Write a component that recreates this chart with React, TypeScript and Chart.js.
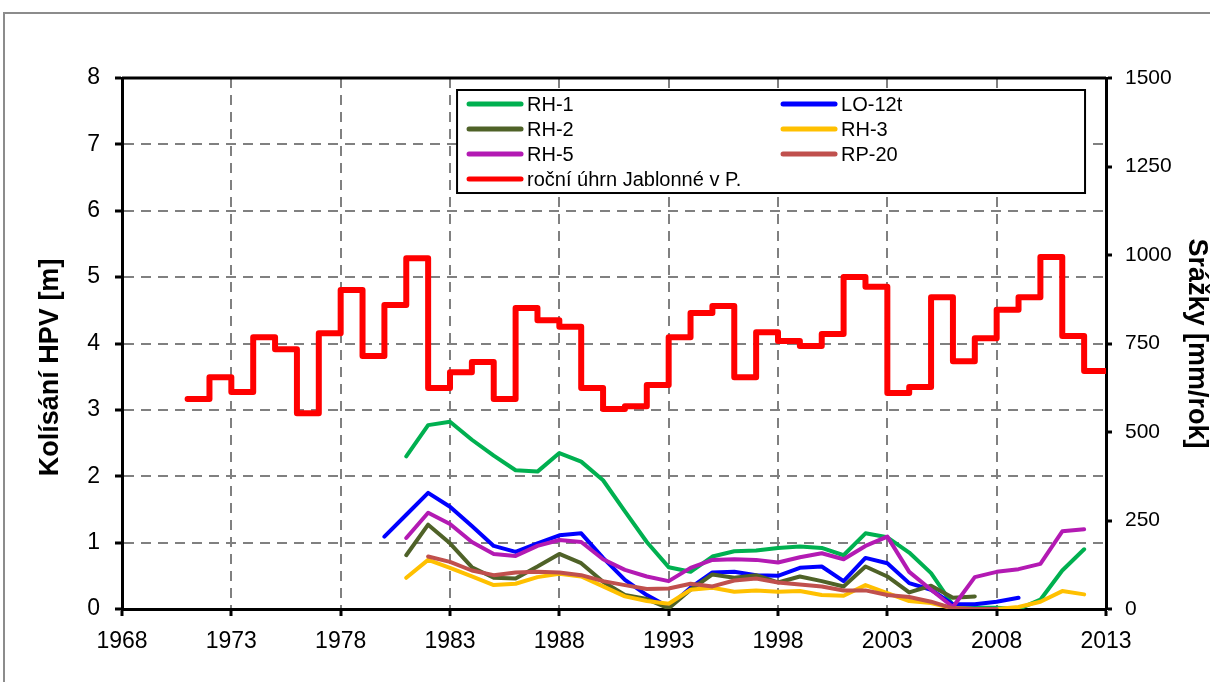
import React, { useEffect, useRef } from 'react';
import { Chart, registerables } from 'chart.js';

Chart.register(...registerables);

const FONT = '"Liberation Sans", Arial, sans-serif';

// x-axis tick labels (years)
const xTickValues = [1968, 1973, 1978, 1983, 1988, 1993, 1998, 2003, 2008, 2013];

// annual precipitation Jablonné v P. [mm/year] (last value repeats to close the final step)
const precipYears = [
  1971, 1972, 1973, 1974, 1975, 1976, 1977, 1978, 1979, 1980,
  1981, 1982, 1983, 1984, 1985, 1986, 1987, 1988, 1989, 1990,
  1991, 1992, 1993, 1994, 1995, 1996, 1997, 1998, 1999, 2000,
  2001, 2002, 2003, 2004, 2005, 2006, 2007, 2008, 2009, 2010,
  2011, 2012, 2013,
];
const precipValues = [
  593, 655, 613, 768, 734, 553, 779, 901, 715, 859,
  991, 624, 669, 698, 593, 850, 816, 797, 624, 565,
  573, 633, 768, 836, 856, 655, 782, 757, 743, 777,
  938, 910, 610, 627, 881, 700, 765, 845, 881, 994,
  771, 672, 672,
];

// groundwater level fluctuation [m]
const gwYears = [
  1980, 1981, 1982, 1983, 1984, 1985, 1986, 1987, 1988, 1989,
  1990, 1991, 1992, 1993, 1994, 1995, 1996, 1997, 1998, 1999,
  2000, 2001, 2002, 2003, 2004, 2005, 2006, 2007, 2008, 2009,
  2010, 2011, 2012,
];
const rh1 = [
  null, 2.30, 2.77, 2.82, 2.55, 2.31, 2.09, 2.07, 2.35, 2.22,
  1.94, 1.47, 1.01, 0.63, 0.56, 0.79, 0.87, 0.88, 0.92, 0.94,
  0.92, 0.81, 1.14, 1.08, 0.85, 0.54, 0.06, 0.02, 0.02, 0.0,
  0.14, 0.58, 0.90,
];
const lo12t = [
  1.09, 1.42, 1.75, 1.54, 1.25, 0.95, 0.86, 0.99, 1.11, 1.14,
  0.77, 0.44, 0.21, 0.03, 0.32, 0.55, 0.56, 0.51, 0.50, 0.62,
  0.64, 0.42, 0.77, 0.69, 0.39, 0.29, 0.07, 0.07, 0.11, 0.17,
  null, null, null,
];
const rh2 = [
  null, 0.81, 1.27, 0.99, 0.63, 0.47, 0.46, 0.64, 0.83, 0.69,
  0.41, 0.21, 0.15, 0.01, 0.29, 0.52, 0.47, 0.51, 0.40, 0.49,
  0.42, 0.34, 0.64, 0.49, 0.25, 0.35, 0.17, 0.19, null, null,
  null, null, null,
];
const rh3 = [
  null, 0.47, 0.74, 0.62, 0.49, 0.36, 0.38, 0.48, 0.53, 0.49,
  0.34, 0.19, 0.12, 0.08, 0.29, 0.32, 0.26, 0.28, 0.26, 0.27,
  0.21, 0.20, 0.36, 0.24, 0.12, 0.09, 0.01, 0.0, 0.0, 0.03,
  0.11, 0.27, 0.22,
];
const rh5 = [
  null, 1.07, 1.45, 1.28, 1.01, 0.83, 0.80, 0.95, 1.04, 1.01,
  0.75, 0.59, 0.49, 0.42, 0.62, 0.74, 0.75, 0.74, 0.70, 0.78,
  0.84, 0.75, 0.95, 1.09, 0.56, 0.29, 0.03, 0.48, 0.56, 0.60,
  0.68, 1.17, 1.20,
];
const rp20 = [
  null, null, 0.79, 0.71, 0.58, 0.51, 0.55, 0.56, 0.55, 0.51,
  0.42, 0.36, 0.30, 0.31, 0.38, 0.34, 0.43, 0.46, 0.40, 0.37,
  0.34, 0.28, 0.28, 0.21, 0.18, 0.11, 0.01, 0.0, 0.0, null,
  null, null, null,
];

const leftTitle = 'Kolísání HPV [m]';
const rightTitle = 'Srážky [mm/rok]';

const toPoints = (xs: number[], ys: (number | null)[]) =>
  xs.map((x, i) => ({ x, y: ys[i] })).filter((p) => p.y !== null) as { x: number; y: number }[];

const framePlugin = {
  id: 'frame',
  beforeDraw(chart: any) {
    const { ctx, width, height } = chart;
    ctx.save();
    ctx.fillStyle = '#ffffff';
    ctx.fillRect(0, 0, width, height);
    ctx.strokeStyle = '#8c8c8c';
    ctx.lineWidth = 2;
    ctx.strokeRect(4, 13, width + 50, height + 50);
    ctx.restore();
  },
};

const leftTitlePlugin = {
  id: 'leftTitle',
  afterDraw(chart: any) {
    const { ctx, chartArea } = chart;
    const h = chartArea.bottom - chartArea.top;
    ctx.save();
    ctx.translate(51, chartArea.top + h * 0.545);
    ctx.rotate(-Math.PI / 2);
    ctx.font = `bold 27px ${FONT}`;
    ctx.fillStyle = '#000';
    ctx.textAlign = 'center';
    ctx.textBaseline = 'middle';
    ctx.fillText(leftTitle, 0, 0);
    ctx.restore();
  },
};

const boxLegendPlugin = {
  id: 'boxLegend',
  afterDraw(chart: any) {
    const { ctx, chartArea } = chart;
    const w = chartArea.right - chartArea.left;
    const h = chartArea.bottom - chartArea.top;
    // top plot border
    ctx.save();
    ctx.strokeStyle = '#000';
    ctx.lineWidth = 3;
    ctx.beginPath();
    ctx.moveTo(chartArea.left, chartArea.top);
    ctx.lineTo(chartArea.right, chartArea.top);
    ctx.stroke();

    const bl = chartArea.left + w * 0.3405;
    const br = chartArea.left + w * 0.9787;
    const bt = chartArea.top + h * 0.0226;
    const bb = chartArea.top + h * 0.2166;
    ctx.fillStyle = '#fff';
    ctx.fillRect(bl, bt, br - bl, bb - bt);
    ctx.lineWidth = 2;
    ctx.strokeStyle = '#000';
    ctx.strokeRect(bl, bt, br - bl, bb - bt);

    const colW = (br - bl) / 2;
    const rowH = 25;
    ctx.font = `20px ${FONT}`;
    ctx.textBaseline = 'middle';
    ctx.textAlign = 'left';
    chart.data.datasets.forEach((ds: any, i: number) => {
      const col = i % 2;
      const row = Math.floor(i / 2);
      const x0 = bl + col * colW + 12;
      const y = bt + 14 + row * rowH;
      ctx.strokeStyle = ds.borderColor;
      ctx.lineWidth = 5;
      ctx.lineCap = 'round';
      ctx.beginPath();
      ctx.moveTo(x0, y);
      ctx.lineTo(x0 + 52, y);
      ctx.stroke();
      ctx.fillStyle = '#000';
      ctx.fillText(ds.label, x0 + 58, y + 1);
    });
    ctx.restore();
  },
};

export default function App() {
  const ref = useRef<HTMLCanvasElement>(null);

  useEffect(() => {
    const lineDs = (label: string, data: any, color: string, order: number) => ({
      label,
      data,
      borderColor: color,
      backgroundColor: color,
      borderWidth: 4,
      pointRadius: 0,
      tension: 0,
      borderCapStyle: 'round',
      borderJoinStyle: 'round',
      yAxisID: 'y',
      order,
    });

    const gridCommon = {
      color: '#808080',
      lineWidth: 2,
      tickColor: '#000',
      tickWidth: 3,
      tickLength: 7,
      tickBorderDash: [],
    };

    const chart = new Chart(ref.current as HTMLCanvasElement, {
      type: 'line',
      data: {
        datasets: [
          lineDs('RH-1', toPoints(gwYears, rh1), '#00B050', 7),
          lineDs('LO-12t', toPoints(gwYears, lo12t), '#0000FF', 6),
          lineDs('RH-2', toPoints(gwYears, rh2), '#4F6228', 5),
          lineDs('RH-3', toPoints(gwYears, rh3), '#FFC000', 4),
          lineDs('RH-5', toPoints(gwYears, rh5), '#B31AB3', 3),
          lineDs('RP-20', toPoints(gwYears, rp20), '#C0504D', 2),
          {
            label: 'roční úhrn Jablonné v P.',
            data: toPoints(precipYears, precipValues),
            borderColor: '#FF0000',
            backgroundColor: '#FF0000',
            borderWidth: 6,
            pointRadius: 0,
            stepped: 'before',
            borderCapStyle: 'round',
            borderJoinStyle: 'round',
            yAxisID: 'y1',
            order: 1,
          },
        ] as any,
      },
      options: {
        responsive: false,
        devicePixelRatio: 1,
        animation: false,
        layout: { padding: { top: 78, left: 0, right: 0, bottom: 0 } },
        plugins: {
          legend: { display: false },
          tooltip: { enabled: false },
        },
        scales: {
          x: {
            type: 'linear',
            min: 1968,
            max: 2013,
            afterBuildTicks: (s: any) => {
              s.ticks = xTickValues.map((v) => ({ value: v }));
            },
            afterFit: (s: any) => {
              s.height = 682 - 609;
            },
            ticks: {
              callback: (v: any) => String(v),
              font: { family: FONT, size: 23 },
              color: '#000',
              padding: 12,
              maxRotation: 0,
              autoSkip: false,
            },
            grid: gridCommon,
            border: { color: '#000', width: 3, dash: [10, 7] },
          },
          y: {
            position: 'left',
            min: 0,
            max: 8,
            afterFit: (s: any) => {
              s.width = 122;
            },
            ticks: {
              stepSize: 1,
              callback: (v: any) => String(v),
              font: { family: FONT, size: 23 },
              color: '#000',
              padding: 15,
            },
            grid: gridCommon,
            border: { color: '#000', width: 3, dash: [10, 7] },
          },
          y1: {
            position: 'right',
            min: 0,
            max: 1500,
            afterFit: (s: any) => {
              s.width = 1210 - 1106;
            },
            ticks: {
              stepSize: 250,
              callback: (v: any) => String(v),
              font: { family: FONT, size: 21 },
              color: '#000',
              padding: 13,
            },
            grid: { ...gridCommon, drawOnChartArea: false, tickLength: 6 },
            border: { color: '#000', width: 3 },
            title: {
              display: true,
              text: rightTitle,
              color: '#000',
              font: { family: FONT, size: 27, weight: 'bold', lineHeight: 1 },
              padding: { top: 0, bottom: 0 },
            },
          },
        },
      } as any,
      plugins: [framePlugin, boxLegendPlugin, leftTitlePlugin],
    });
    return () => chart.destroy();
  }, []);

  return (
    <div style={{ position: 'absolute', left: 0, top: 0, width: 1210, height: 682, overflow: 'hidden', background: '#fff' }}>
      <canvas ref={ref} width={1210} height={682} style={{ display: 'block', width: 1210, height: 682 }} />
    </div>
  );
}
